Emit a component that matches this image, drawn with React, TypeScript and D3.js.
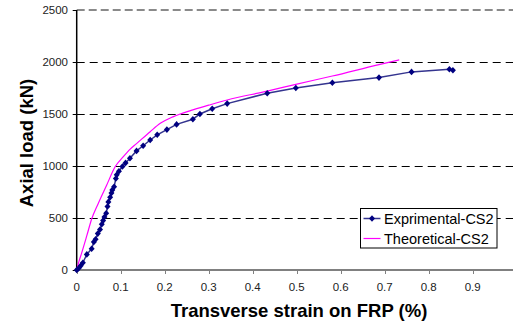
import React from "react";
import * as d3 from "d3";

// Experimental readings: transverse strain on FRP (%) vs axial load (kN)
const expStrain = [
  0, 0.004, 0.009, 0.014, 0.023, 0.034, 0.039, 0.043, 0.048, 0.053, 0.057, 0.06, 0.063,
  0.067, 0.07, 0.072, 0.076, 0.079, 0.081, 0.085, 0.089, 0.091, 0.096, 0.104, 0.111,
  0.121, 0.136, 0.151, 0.167, 0.183, 0.205, 0.227, 0.264, 0.28, 0.308, 0.342, 0.433,
  0.498, 0.581, 0.687, 0.761, 0.847, 0.855,
];
const expLoad = [
  0, 15, 40, 70, 150, 205, 270, 295, 350, 390, 440, 475, 510, 545, 610, 655, 700, 740,
  770, 800, 880, 915, 950, 995, 1030, 1075, 1145, 1195, 1250, 1300, 1350, 1400, 1450,
  1500, 1550, 1600, 1700, 1750, 1800, 1850, 1905, 1930, 1920,
];

// Theoretical model curve
const theoStrain = [
  0, 0.005, 0.011, 0.023, 0.034, 0.049, 0.068, 0.087, 0.106, 0.121, 0.136, 0.167, 0.19,
  0.22, 0.26, 0.3, 0.342, 0.433, 0.498, 0.581, 0.687, 0.733,
];
const theoLoad = [
  0, 80, 160, 330, 490, 640, 815, 990, 1090, 1160, 1215, 1330, 1410, 1475, 1535, 1585,
  1635, 1720, 1785, 1865, 1975, 2020,
];

const xTicks = [0, 0.1, 0.2, 0.3, 0.4, 0.5, 0.6, 0.7, 0.8, 0.9];
const yTicks = [0, 500, 1000, 1500, 2000, 2500];
const seriesNames = ["Exprimental-CS2", "Theoretical-CS2"];

const W = 513;
const H = 326;

export default function App() {
  const x = d3.scaleLinear().domain([0, 1]).range([76.7, 516.7]);
  const y = d3.scaleLinear().domain([0, 2500]).range([270, 10]);

  const expPts: [number, number][] = expStrain.map((s, i) => [s, expLoad[i]]);
  const theoPts: [number, number][] = theoStrain.map((s, i) => [s, theoLoad[i]]);

  const lineExp = d3
    .line<[number, number]>()
    .x((d) => x(d[0]))
    .y((d) => y(d[1]));
  const lineTheo = d3
    .line<[number, number]>()
    .x((d) => x(d[0]))
    .y((d) => y(d[1]))
    .curve(d3.curveMonotoneX);

  const diamond = "M0,-3.3L3,0L0,3.3L-3,0Z";
  const font = "'Liberation Sans', Arial, sans-serif";
  const x0 = x(0);
  const y0 = y(0);
  // half-pixel offset keeps 1px grid strokes crisp
  const crisp = (v: number) => Math.round(v) + 0.5;

  return (
    <svg
      width={W}
      height={H}
      style={{ position: "fixed", left: 0, top: 0, background: "#fff" }}
      fontFamily={font}
    >
      {/* horizontal gridlines */}
      {yTicks
        .filter((t) => t > 0 && t < 2500)
        .map((t) => (
          <line
            key={t}
            x1={x0}
            x2={W}
            y1={crisp(y(t))}
            y2={crisp(y(t))}
            stroke="#000"
            strokeWidth={1}
            strokeDasharray="8,5"
          />
        ))}
      <line
        x1={x0}
        x2={W}
        y1={y(2500)}
        y2={y(2500)}
        stroke="#8a8a8a"
        strokeWidth={2}
        strokeDasharray="8,4"
      />

      {/* y axis */}
      <line x1={x0} x2={x0} y1={y(2500)} y2={y0} stroke="#000" strokeWidth={1.5} />
      {yTicks.map((t) => (
        <g key={t}>
          <line x1={x0 - 4} x2={x0} y1={crisp(y(t))} y2={crisp(y(t))} stroke="#000" strokeWidth={1} />
          <text
            x={68}
            y={y(t)}
            textAnchor="end"
            dominantBaseline="central"
            fontSize={11.5}
            fill="#222"
          >
            {t}
          </text>
        </g>
      ))}

      {/* x axis */}
      <line x1={x0} x2={W} y1={y0} y2={y0} stroke="#808080" strokeWidth={2} />
      {xTicks.map((t) => (
        <g key={t}>
          <line x1={crisp(x(t))} x2={crisp(x(t))} y1={y0} y2={y0 + 4} stroke="#808080" strokeWidth={1} />
          <text
            x={x(t)}
            y={287}
            textAnchor="middle"
            dominantBaseline="central"
            fontSize={11.5}
            fill="#222"
          >
            {t}
          </text>
        </g>
      ))}

      {/* series */}
      <path d={lineTheo(theoPts) ?? ""} fill="none" stroke="#ff00ff" strokeWidth={1.2} />
      <path d={lineExp(expPts) ?? ""} fill="none" stroke="#34348f" strokeWidth={1.5} />
      {expPts.map((d, i) => (
        <path
          key={i}
          d={diamond}
          transform={`translate(${x(d[0])},${y(d[1])})`}
          fill="#000080"
        />
      ))}

      {/* axis titles */}
      <text
        x={299}
        y={316.5}
        textAnchor="middle"
        fontSize={18.5}
        fontWeight="bold"
        fill="#000"
      >
        Transverse strain on FRP (%)
      </text>
      <text
        transform={`translate(32.5,${(10 + 270) / 2 + 3}) rotate(-90)`}
        textAnchor="middle"
        fontSize={18.5}
        fontWeight="bold"
        fill="#000"
      >
        Axial load (kN)
      </text>

      {/* legend */}
      <rect x={360.5} y={208.5} width={136.5} height={39.5} fill="#fff" stroke="#000" strokeWidth={1} />
      <line x1={363.5} x2={380.5} y1={218.5} y2={218.5} stroke="#34348f" strokeWidth={1.5} />
      <path d={diamond} transform="translate(372,218.5)" fill="#000080" />
      <text x={384} y={219} dominantBaseline="central" fontSize={14.5} fill="#000">
        {seriesNames[0]}
      </text>
      <line x1={363.5} x2={380.5} y1={238.5} y2={238.5} stroke="#ff00ff" strokeWidth={1.2} />
      <text x={384} y={238.5} dominantBaseline="central" fontSize={14.5} fill="#000">
        {seriesNames[1]}
      </text>
    </svg>
  );
}
